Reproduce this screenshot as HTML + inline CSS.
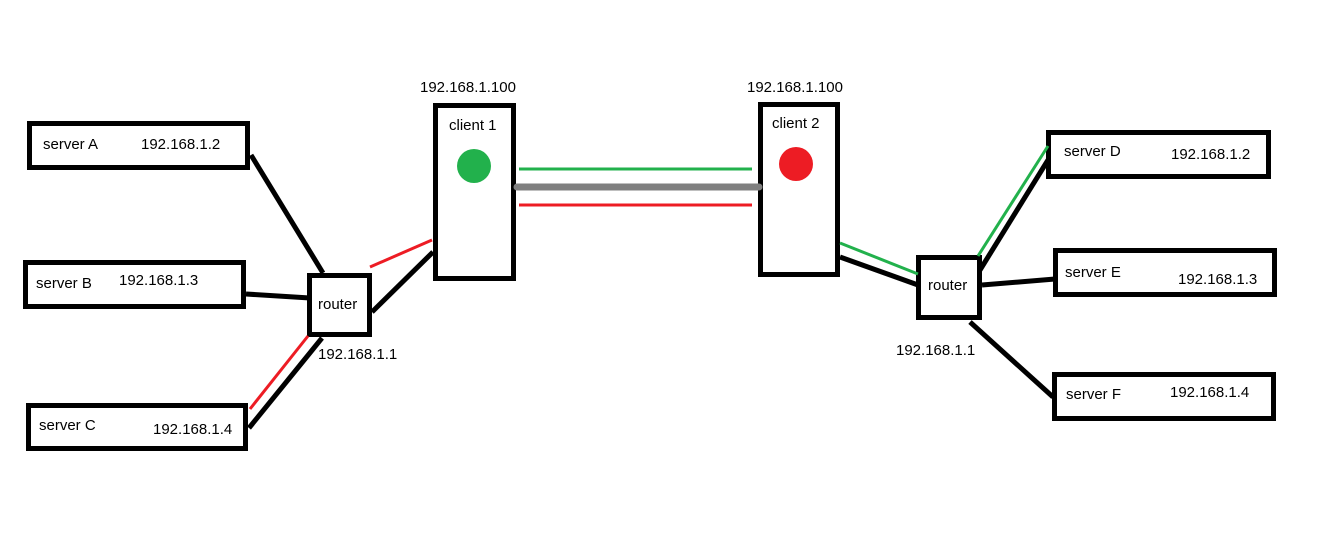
<!DOCTYPE html>
<html><head><meta charset="utf-8"><style>
html,body{margin:0;padding:0;background:#fff;}
svg text{font-family:"Liberation Sans",Arial,sans-serif;font-size:15px;fill:#000;}
</style></head><body>
<svg width="1330" height="538" viewBox="0 0 1330 538" xmlns="http://www.w3.org/2000/svg">
<rect width="1330" height="538" fill="#fff"/>
<g stroke="#000" stroke-width="5" fill="none">
<rect x="29.5" y="123.5" width="218" height="44"/>
<rect x="25.5" y="262.5" width="218" height="44"/>
<rect x="28.5" y="405.5" width="217" height="43"/>
<rect x="309.5" y="275.5" width="60" height="59"/>
<rect x="435.5" y="105.5" width="78" height="173"/>
<rect x="760.5" y="104.5" width="77" height="170"/>
<rect x="918.5" y="257.5" width="61" height="60"/>
<rect x="1048.5" y="132.5" width="220" height="44"/>
<rect x="1055.5" y="250.5" width="219" height="44"/>
<rect x="1054.5" y="374.5" width="219" height="44"/>
</g>
<g stroke="#000" stroke-width="5">
<line x1="251" y1="155" x2="323" y2="273"/>
<line x1="246" y1="294" x2="310" y2="298"/>
<line x1="249" y1="428" x2="322" y2="338"/>
<line x1="372" y1="312" x2="433" y2="252"/>
<line x1="840" y1="257" x2="918" y2="285"/>
<line x1="980" y1="270" x2="1048" y2="160"/>
<line x1="982" y1="285" x2="1055" y2="279"/>
<line x1="970" y1="322" x2="1053" y2="397"/>
</g>
<g stroke-width="3">
<line x1="250" y1="409" x2="308" y2="336" stroke="#ed1c24"/>
<line x1="370" y1="267" x2="432" y2="240" stroke="#ed1c24"/>
<line x1="840" y1="243" x2="918" y2="274" stroke="#22b14c"/>
<line x1="978" y1="256" x2="1048" y2="146" stroke="#22b14c"/>
<line x1="519" y1="169" x2="752" y2="169" stroke="#22b14c"/>
<line x1="519" y1="205" x2="752" y2="205" stroke="#ed1c24"/>
</g>
<line x1="517" y1="187" x2="759" y2="187" stroke="#7f7f7f" stroke-width="7" stroke-linecap="round"/>
<circle cx="474" cy="166" r="17" fill="#22b14c"/>
<circle cx="796" cy="164" r="17" fill="#ed1c24"/>
<text x="43" y="149">server A</text><text x="141" y="149">192.168.1.2</text>
<text x="36" y="288">server B</text><text x="119" y="285">192.168.1.3</text>
<text x="39" y="430">server C</text><text x="153" y="434">192.168.1.4</text>
<text x="318" y="309">router</text>
<text x="318" y="359">192.168.1.1</text>
<text x="420" y="92">192.168.1.100</text>
<text x="449" y="130">client 1</text>
<text x="747" y="92">192.168.1.100</text>
<text x="772" y="128">client 2</text>
<text x="928" y="290">router</text>
<text x="896" y="355">192.168.1.1</text>
<text x="1064" y="156">server D</text><text x="1171" y="159">192.168.1.2</text>
<text x="1065" y="277">server E</text><text x="1178" y="284">192.168.1.3</text>
<text x="1066" y="399">server F</text><text x="1170" y="397">192.168.1.4</text>
</svg>
</body></html>
